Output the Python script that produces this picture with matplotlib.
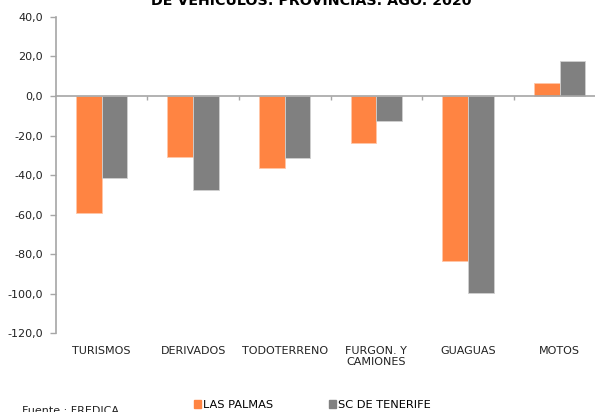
import matplotlib
matplotlib.use("Agg")
import matplotlib.pyplot as plt
import matplotlib.transforms as mtransforms
from matplotlib.patches import Patch
import numpy as np

# data
categories = ["TURISMOS", "DERIVADOS", "TODOTERRENO", "FURGON. Y\nCAMIONES", "GUAGUAS", "MOTOS"]
las_palmas = [-59.1, -30.8, -36.4, -23.9, -83.2, 6.7]
sc_tenerife = [-41.6, -47.5, -31.6, -12.8, -99.8, 17.7]
y_ticks = [40, 20, 0, -20, -40, -60, -80, -100, -120]

ORANGE = "#FF8442"
GREY = "#808080"
AXIS = "#A6A6A6"

plt.rcParams["font.family"] = "DejaVu Sans"

fig = plt.figure(figsize=(5.95, 4.12), dpi=100)
W, H = 595.0, 412.0
ax = fig.add_axes([55.7 / W, (H - 333.3) / H, 549.6 / W, (333.3 - 16.9) / H])

x = np.arange(len(categories))
bw = 0.28
ax.bar(x - bw / 2, las_palmas, bw, color=ORANGE, edgecolor="#FFC6A8", linewidth=0.6, zorder=2)
ax.bar(x + bw / 2, sc_tenerife, bw, color=GREY, edgecolor="#D0D0D0", linewidth=0.6, zorder=2)

ax.set_xlim(-0.5, len(categories) - 0.5)
ax.set_ylim(-120, 40)
ax.set_yticks(y_ticks)
ax.set_yticklabels([f"{v:.1f}".replace(".", ",") for v in y_ticks], fontsize=8, color="#222222")

for s in ["top", "right"]:
    ax.spines[s].set_visible(False)
ax.spines["left"].set_color(AXIS)
ax.spines["left"].set_linewidth(1.2)
ax.spines["bottom"].set_position(("data", 0))
ax.spines["bottom"].set_color(AXIS)
ax.spines["bottom"].set_linewidth(1.2)
ax.spines["bottom"].set_zorder(3)

ax.set_xticks(x[:-1] + 0.5)
ax.set_xticklabels([])
ax.tick_params(axis="x", direction="out", length=3, color=AXIS, width=1)
ax.tick_params(axis="y", direction="out", length=4, color=AXIS, width=1, pad=5)

# category labels below the plot area
trans = mtransforms.blended_transform_factory(ax.transData, fig.transFigure)
for xi, lab in zip(x, categories):
    ax.text(xi, (H - 345.5) / H, lab, transform=trans, ha="center", va="top",
            fontsize=8, color="#222222", linespacing=1.2, multialignment="center")

fig.text(311 / W, (H - 4.7) / H, "DE VEHICULOS: PROVINCIAS. AGO. 2020",
         ha="center", va="baseline", fontsize=10.3, fontweight="bold")

handles = [Patch(color=ORANGE, label="LAS PALMAS"), Patch(color=GREY, label="SC DE TENERIFE")]
fig.legend(handles=handles, loc="center left", bbox_to_anchor=(194 / W, (H - 405) / H),
           ncol=2, frameon=False, fontsize=8.2, handlelength=0.6, handleheight=0.6,
           handletextpad=0.2, columnspacing=4.9, borderpad=0, borderaxespad=0)

fig.text(21.7 / W, (H - 406.5) / H, "Fuente : FREDICA", ha="left", va="top", fontsize=8, color="#222222")

fig.savefig("out.png", dpi=100)
